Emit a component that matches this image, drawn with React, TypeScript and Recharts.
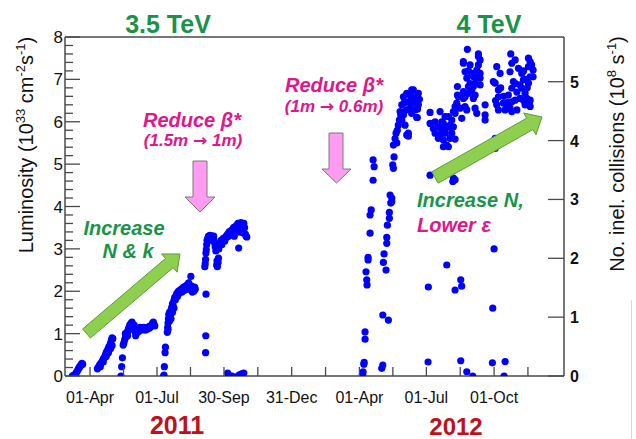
import { ScatterChart, Scatter, XAxis, YAxis, ReferenceLine } from "recharts";

// x = day counted from 1 Jan 2011, y = peak luminosity (10^33 cm^-2 s^-1)
const march2011: [number, number][] = [
  [66, 0], [67, 0.01], [68, 0], [69, 0.02], [70, 0.04], [71, 0.07], [72, 0.1], [73, 0.13],
  [74, 0.16], [75, 0.19], [76, 0.22], [77, 0.24], [78, 0.27], [79, 0.3], [80, 0.28],
];

const april2011: [number, number][] = [
  [100, 0.17], [101, 0.2], [102, 0.22], [103, 0.26], [104, 0.28], [105, 0.3], [106, 0.33],
  [107, 0.36], [108, 0.4], [109, 0.42], [110, 0.45], [111, 0.5], [112, 0.55], [113, 0.58],
  [114, 0.62], [115, 0.66], [116, 0.7], [117, 0.72], [118, 0.78], [119, 0.85], [120, 0.9],
  [121, 0.88], [104, 0.22], [108, 0.33], [112, 0.46], [115, 0.55], [118, 0.65], [120, 0.72],
];

const may2011: [number, number][] = [
  [132, 0], [133, 0.22], [134, 0.43], [135, 0.73], [136, 0.78], [137, 0.85], [138, 0.9],
  [139, 0.95], [140, 1.0], [141, 1.05], [142, 1.1], [143, 1.15], [144, 1.2], [145, 1.22],
  [146, 1.25], [147, 1.27], [148, 1.2], [149, 1.15], [150, 1.1], [151, 1.05], [152, 0.95],
  [153, 1.0], [154, 1.08], [155, 1.12], [156, 1.05], [157, 1.1], [158, 1.15], [159, 1.08],
  [160, 1.12], [162, 1.1], [163, 1.15], [165, 1.08], [166, 1.12], [167, 1.1], [168, 1.15],
  [170, 1.12], [171, 1.18], [172, 1.15], [174, 1.2], [175, 1.25], [176, 1.27], [177, 1.22],
  [178, 1.18], [138, 1.0], [141, 0.95], [144, 1.1], [146, 1.15], [150, 1.2], [152, 1.12],
];

const july2011: [number, number][] = [
  [190, 0], [190.5, 0.02], [191, 0.22], [192, 0.55], [192.5, 0.68], [195, 1.03], [195.5, 1.15],
  [196, 1.25], [196.5, 1.35], [197, 1.45], [198, 1.5], [199, 1.4], [200, 1.55], [201, 1.62],
  [202, 1.7], [203, 1.65], [204, 1.78], [205, 1.85], [206, 1.8], [207, 1.9], [208, 1.95],
  [209, 1.88], [210, 2.0], [211, 1.95], [212, 2.02], [213, 2.0], [214, 2.05], [215, 1.98],
  [216, 2.05], [217, 2.1], [218, 2.02], [219, 2.08], [220, 2.12], [221, 2.05], [222, 2.15],
  [223, 2.1], [224, 2.2], [225, 2.15], [226, 2.05], [227, 2.35], [228, 2.12], [229, 1.98],
  [230, 2.08], [231, 2.0], [232, 2.1], [233, 2.05], [196, 1.1], [198, 1.3], [200, 1.35],
  [202, 1.5], [204, 1.6], [247, 0.55], [247.3, 0.95], [247.6, 1.93],
];

const sept2011: [number, number][] = [
  [246, 2.58], [246.5, 2.65], [247, 2.75], [247.5, 2.9], [248, 2.98], [248.5, 3.1], [249, 3.2],
  [250, 3.25], [251, 3.3], [252, 3.28], [253, 3.32], [254, 3.3], [255, 3.25], [256, 3.3],
  [257, 3.28], [258, 3.22], [259, 3.15], [260, 3.05], [261, 2.95], [262, 2.62], [262.5, 2.72],
  [263, 2.58], [264, 2.68], [264.5, 2.78], [265, 3.0], [266, 3.1], [267, 3.15], [268, 3.2],
  [269, 3.1], [270, 3.2], [271, 3.25], [272, 3.22], [273, 3.18], [274, 3.25], [275, 3.3],
  [276, 3.28], [277, 3.35], [278, 3.3], [279, 3.4], [280, 3.35], [281, 3.42], [282, 3.38],
  [283, 3.45], [284, 3.4], [285, 3.5], [286, 3.45], [287, 3.52], [288, 3.48], [289, 3.55],
  [290, 3.5], [291, 3.6], [292, 3.02], [293, 3.55], [294, 3.58], [295, 3.62], [296, 3.5],
  [297, 3.45], [298, 3.55], [299, 3.6], [300, 3.5], [301, 3.35], [302, 3.3], [303, 3.28],
  [286, 3.3], [290, 3.4], [294, 3.4], [298, 3.38], [255, 3.2], [258, 3.3], [262, 3.1],
  [277, 0.07], [278, 0.03], [283, 0], [291, 0], [293, 0.03], [296, 0.05], [299, 0.07],
];

const april2012: [number, number][] = [
  [460, 0], [460.5, 0.04], [461, 0.1], [462, 0.28], [462.5, 0.32], [463.7, 0.87], [463.7, 1.04],
  [466.4, 2.15], [466, 2.27], [465, 2.46], [467.8, 2.74], [467.8, 2.8], [470.5, 3.37],
  [470.5, 3.8], [472, 3.92], [474.6, 4.62], [476, 4.94], [474.6, 5.1],
  [486.4, 0.18], [487.8, 0.26], [487.8, 1.44], [495.4, 1.32], [492.2, 2.5], [488.6, 2.68],
  [489.5, 2.88], [493.2, 3.13], [493.2, 3.27], [494, 3.56], [496.7, 3.72], [496.7, 3.86],
  [498.6, 4.08], [497.7, 4.27], [500, 4.2], [500, 4.11],
];

const may2012: [number, number][] = [
  [502.2, 4.9], [501.3, 4.98], [503.1, 5.17], [502.2, 5.45], [504.5, 5.6], [505.8, 5.73],
  [508.9, 5.92], [510.3, 6.04], [512.2, 6.16], [511.3, 6.24], [513.6, 6.4], [515.8, 6.59],
  [520.3, 6.67], [527.1, 6.75], [529.3, 6.59], [533.9, 6.55], [536.1, 6.4], [531.6, 6.28],
  [533.9, 6.1], [524.8, 6.32], [529.3, 6.44], [518, 5.92], [522.5, 5.73], [520.3, 5.69],
  [522.5, 5.66], [534.7, 6.1], [524.8, 6.63], [522.5, 6.47], [515.8, 6.16], [519.4, 6.28],
  [513.6, 6.04], [529.3, 6.75], [536.1, 6.67], [537.5, 6.53], [526, 6.5], [531, 6.45],
  [517, 6.45], [527, 6.2], [535, 6.3], [506.8, 5.5], [507.5, 5.8],
];

const june2012: [number, number][] = [
  [552, 6.22], [552, 5.96], [556.5, 5.84], [558.8, 5.73], [563.3, 5.61], [567.9, 5.8],
  [570.1, 5.57], [574.7, 5.45], [565.6, 6.24], [576.9, 6.12], [579.2, 5.88], [581.5, 6.04],
  [586, 6.2], [588.3, 6.4], [589.2, 6.63], [589.2, 6.83], [552, 4.74], [583.7, 4.67],
  [586, 4.63], [558.8, 6.0], [563.3, 5.88], [567.9, 6.0], [572.4, 5.73], [565.6, 5.69],
  [574.7, 5.88], [570.1, 5.41], [579.2, 5.61], [581.5, 5.73], [583.7, 5.88], [572.4, 6.12],
  [570.1, 5.96], [572.4, 5.8], [579.2, 5.92], [576.9, 5.41], [586, 5.59], [582.9, 4.59],
  [583.7, 6.24], [586, 6.36], [588.3, 6.44], [590.5, 6.59], [592.8, 6.32], [595.1, 6.08],
  [597.3, 6.71], [599.6, 6.36],
];

const aug2012: [number, number][] = [
  [602.7, 7.71], [597.3, 7.38], [599.6, 7.18], [606.4, 7.34], [617.7, 7.54], [617.7, 7.34],
  [620, 7.14], [610.9, 7.06], [613.2, 6.91], [620, 6.87], [608.7, 6.75], [604.1, 6.67],
  [613.2, 6.63], [626.8, 6.4], [615.5, 6.2], [613.2, 6.32], [626.8, 6.04], [601.9, 7.03],
  [608.7, 7.14], [615.5, 7.22], [604.1, 6.83], [610.9, 6.55], [597.3, 6.55], [620, 7.03],
  [597.3, 7.42], [620, 7.46], [617.7, 7.6], [626.8, 6.16], [610.9, 6.83], [615.5, 7.06],
  [599.6, 6.59], [601.9, 6.28], [606.4, 6.9], [604.1, 7.2],
];

const fall2012: [number, number][] = [
  [642.6, 7.3], [647.2, 7.14], [640.4, 6.91], [644.9, 6.75], [644.9, 6.59], [642.6, 6.4],
  [644.9, 6.28], [651.6, 6.44], [654, 6.28], [660.7, 6.32], [663, 6.47], [658.4, 6.63],
  [663, 6.79], [665.2, 6.95], [660.7, 7.18], [663, 7.38], [661.6, 7.6], [667.6, 7.46],
  [672.1, 7.26], [676.6, 7.14], [678.9, 6.99], [674.3, 6.87], [676.6, 6.79], [681.1, 6.67],
  [683.4, 6.55], [674.3, 6.55], [667.6, 6.51], [678.9, 6.51], [685.7, 6.91], [688, 7.06],
  [685.7, 7.3], [688, 7.42], [685.7, 7.5], [687, 6.4], [681.1, 6.4], [663, 6.24], [670, 6.28],
  [638, 6.95], [640.4, 5.61], [640.4, 5.37], [656.6, 6.36], [690, 7.34], [692, 7.22],
  [692, 7.06], [688, 6.36], [688, 6.51], [641, 6.5], [670, 6.7], [668, 6.9], [682, 7.0],
  [652, 6.6], [648, 6.8], [684, 6.8], [679, 7.2], [657, 6.45],
];

const lowFills2012: [number, number][] = [
  [549.3, 0.33], [549.7, 2.1], [574.7, 2.62], [593.7, 2.27], [595, 2.12], [586, 2.03],
  [593.7, 0.36], [601.9, 0.1], [610, 0], [639, 3.0], [637.2, 1.6], [636.7, 0.31],
  [654, 0.34], [652.6, 0],
];

const majorDays = [90, 181, 272, 364, 456, 547, 639];
const majorLabels = ["01-Apr", "01-Jul", "30-Sep", "31-Dec", "01-Apr", "01-Jul", "01-Oct"];
const minorDays = [135.5, 226.5, 318, 410, 501.5, 593, 685];
const lumiMajor = [0, 1, 2, 3, 4, 5, 6, 7, 8];
const collTicks = [0, 1, 2, 3, 4, 5];

const points = [
  march2011, april2011, may2011, july2011, sept2011,
  april2012, may2012, june2012, aug2012, fall2012, lowFills2012,
].flat().map(([day, lumi]) => ({ day, lumi }));

const lumiTicks = lumiMajor.flatMap((v) =>
  v < 8 ? [v, v + 0.2, v + 0.4, v + 0.6, v + 0.8] : [v]
);

const AXIS = "#4a4a4a";
const FONT = "'Liberation Sans', Arial, sans-serif";
const GREEN = "#17944a";
const MAGENTA = "#e0168c";
const DARKRED = "#c0101a";

function DateTick({ x, y, payload }: any) {
  const i = majorDays.indexOf(payload.value);
  return (
    <g>
      <line x1={x} y1={y} x2={x} y2={y - 9} stroke={AXIS} strokeWidth={1.3} />
      {i >= 0 && (
        <text x={x} y={y + 27} textAnchor="middle" fontSize={16} fontFamily={FONT} fill="#111">
          {majorLabels[i]}
        </text>
      )}
    </g>
  );
}

function LumiTick({ x, y, payload }: any) {
  const major = Number.isInteger(Math.round(payload.value * 1000) / 1000);
  return (
    <g>
      <line x1={x} y1={y} x2={x + (major ? 15 : 8)} y2={y} stroke={AXIS} strokeWidth={1.3} />
      {major && (
        <text x={x - 2} y={y + 6} textAnchor="end" fontSize={17} fontFamily={FONT} fill="#111">
          {payload.value}
        </text>
      )}
    </g>
  );
}

function CollTick({ x, y, payload }: any) {
  return (
    <g>
      <line x1={x} y1={y} x2={x - 16} y2={y} stroke={AXIS} strokeWidth={1.3} />
      <text x={x + 6} y={y + 6} fontSize={16} fontWeight="bold" fontFamily={FONT} fill="#111">
        {payload.value}
      </text>
    </g>
  );
}

function Dot(props: any) {
  return <circle cx={props.cx} cy={props.cy} r={3.6} fill="#0000ff" />;
}

function blockArrow(x0: number, y0: number, x1: number, y1: number, shaft: number, head: number, headLen: number) {
  const len = Math.hypot(x1 - x0, y1 - y0);
  const ux = (x1 - x0) / len;
  const uy = (y1 - y0) / len;
  const px = -uy;
  const py = ux;
  const bx = x1 - ux * headLen;
  const by = y1 - uy * headLen;
  const pts = [
    [x0 + px * shaft / 2, y0 + py * shaft / 2],
    [bx + px * shaft / 2, by + py * shaft / 2],
    [bx + px * head / 2, by + py * head / 2],
    [x1, y1],
    [bx - px * head / 2, by - py * head / 2],
    [bx - px * shaft / 2, by - py * shaft / 2],
    [x0 - px * shaft / 2, y0 - py * shaft / 2],
  ];
  return pts.map((p) => p.join(",")).join(" ");
}

function Annotations() {
  const sup = { fontSize: 13 };
  const arrow = { fontFamily: "'DejaVu Sans', sans-serif", fontStyle: "normal" };
  return (
    <svg
      width={636}
      height={439}
      style={{ position: "absolute", left: 0, top: 0, pointerEvents: "none" }}
      fontFamily={FONT}
    >
      <text x={168} y={33} textAnchor="middle" fontSize={25} fontWeight="bold" fill={GREEN}>3.5 TeV</text>
      <text x={489} y={33} textAnchor="middle" fontSize={25} fontWeight="bold" fill={GREEN}>4 TeV</text>
      <text x={177} y={434} textAnchor="middle" fontSize={25} fontWeight="bold" fill={DARKRED}>2011</text>
      <text x={456} y={435} textAnchor="middle" fontSize={24} fontWeight="bold" fill={DARKRED}>2012</text>

      <text transform="translate(33,145) rotate(-90)" textAnchor="middle" fontSize={20} fill="#111">
        Luminosity (10<tspan dy={-8} {...sup}>33</tspan>
        <tspan dy={8}> cm</tspan><tspan dy={-8} {...sup}>-2</tspan>
        <tspan dy={8}>s</tspan><tspan dy={-8} {...sup}>-1</tspan>
        <tspan dy={8}>)</tspan>
      </text>
      <text transform="translate(624,154) rotate(-90)" textAnchor="middle" fontSize={20} fill="#111">
        No. inel. collisions (10<tspan dy={-8} {...sup}>8</tspan>
        <tspan dy={8}> s</tspan><tspan dy={-8} {...sup}>-1</tspan>
        <tspan dy={8}>)</tspan>
      </text>

      <g fontWeight="bold" fontStyle="italic" fill={MAGENTA} textAnchor="middle">
        <text x={192} y={127} fontSize={20}>Reduce β*</text>
        <text x={193} y={146} fontSize={17}>(1.5m <tspan {...arrow}>→</tspan> 1m)</text>
        <text x={334} y={92} fontSize={20}>Reduce β*</text>
        <text x={334} y={112} fontSize={17}>(1m <tspan {...arrow}>→</tspan> 0.6m)</text>
      </g>

      <polygon points="193,161 207,161 207,197 215,197 200,212 185,197 193,197" fill="#ff9cf2" stroke="#7a7a7a" strokeWidth={1} />
      <polygon points="329,133 343,133 343,169 351,169 336.5,183 322,169 329,169" fill="#ff9cf2" stroke="#7a7a7a" strokeWidth={1} />

      <polygon points={blockArrow(86.5, 333.5, 180, 254, 12, 24, 14)} fill="#8fcf4f" stroke="#5c9e3a" strokeWidth={1} />
      <polygon points={blockArrow(435, 177.5, 542, 117, 13, 25, 14)} fill="#8fcf4f" stroke="#5c9e3a" strokeWidth={1} />

      <g fontWeight="bold" fontStyle="italic" fontSize={20}>
        <text x={124} y={235} textAnchor="middle" fill={GREEN}>Increase</text>
        <text x={128} y={258} textAnchor="middle" fill={GREEN}>N &amp; k</text>
        <text x={417} y={207} fill={GREEN}>Increase N,</text>
        <text x={417} y={232} fill={MAGENTA}>Lower ε</text>
      </g>

      <line x1={631.5} y1={300} x2={631.5} y2={439} stroke="#d8d8d8" strokeWidth={1} />
    </svg>
  );
}

export default function App() {
  return (
    <div style={{ position: "absolute", left: 0, top: 0, width: 636, height: 439, background: "#fff" }}>
      <ScatterChart
        width={636}
        height={439}
        margin={{ top: 37, right: 32, left: 15, bottom: 33 }}
        style={{ fontFamily: FONT }}
      >
        <XAxis
          type="number"
          dataKey="day"
          domain={[56, 734]}
          allowDataOverflow
          ticks={[...majorDays, ...minorDays].sort((a, b) => a - b)}
          interval={0}
          tick={<DateTick />}
          tickLine={false}
          tickSize={0}
          tickMargin={0}
          height={30}
          axisLine={{ stroke: AXIS, strokeWidth: 1.5 }}
        />
        <YAxis
          yAxisId="lumi"
          type="number"
          dataKey="lumi"
          domain={[0, 8]}
          allowDataOverflow
          ticks={lumiTicks}
          interval={0}
          tick={<LumiTick />}
          tickLine={false}
          tickSize={0}
          tickMargin={0}
          width={50}
          axisLine={{ stroke: AXIS, strokeWidth: 1.5 }}
        />
        <YAxis
          yAxisId="coll"
          orientation="right"
          type="number"
          domain={[0, 5.76]}
          allowDataOverflow
          ticks={collTicks}
          interval={0}
          tick={<CollTick />}
          tickLine={false}
          tickSize={0}
          tickMargin={0}
          width={40}
          axisLine={{ stroke: AXIS, strokeWidth: 1.5 }}
        />
        <ReferenceLine yAxisId="lumi" y={8} stroke={AXIS} strokeWidth={1.5} />
        <Scatter yAxisId="lumi" data={points} shape={<Dot />} isAnimationActive={false} />
      </ScatterChart>
      <Annotations />
    </div>
  );
}
